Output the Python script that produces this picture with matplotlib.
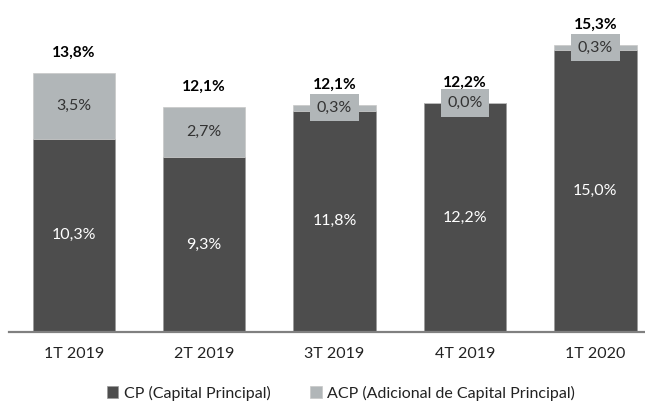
import matplotlib.pyplot as plt
import numpy as np

# dados (em %)
trimestres = ['1T 2019', '2T 2019', '3T 2019', '4T 2019', '1T 2020']
cp = [10.3, 9.3, 11.8, 12.2, 15.0]
acp = [3.5, 2.7, 0.3, 0.0, 0.3]
totais = [13.8, 12.1, 12.1, 12.2, 15.3]

cor_cp = '#4d4d4d'
cor_acp = '#b1b6b8'

plt.rcParams['font.family'] = ['Lato', 'DejaVu Sans']


def fmt(v):
    return f'{v:.1f}'.replace('.', ',') + '%'


fig = plt.figure(figsize=(6.45, 4.01), dpi=100)
ax = fig.add_axes([9 / 645, 69 / 401, 636 / 645, 332 / 401])

x = np.arange(len(trimestres))
w = 0.63
ax.bar(x, cp, w, color=cor_cp, edgecolor='#9a9a9a', linewidth=0.5,
       label='CP (Capital Principal)')
ax.bar(x, acp, w, bottom=cp, color=cor_acp, edgecolor='#c8c8c8', linewidth=0.5,
       label='ACP (Adicional de Capital Principal)')

for i in range(len(x)):
    # rotulo CP
    ax.text(x[i], cp[i] / 2, fmt(cp[i]), ha='center', va='center',
            color='white', fontsize=11.5)
    # rotulo ACP
    if acp[i] >= 1:
        ax.text(x[i], cp[i] + acp[i] / 2, fmt(acp[i]), ha='center', va='center',
                color='#333333', fontsize=11.5)
    else:
        ax.text(x[i], cp[i] + acp[i] / 2, fmt(acp[i]), ha='center', va='center',
                color='#333333', fontsize=11.5,
                bbox=dict(boxstyle='square,pad=0.42', fc=cor_acp, ec='none'))
    # total
    topo = cp[i] + acp[i]
    ax.annotate(fmt(totais[i]), (x[i], topo), xytext=(0, 14.5),
                textcoords='offset points', ha='center', va='center',
                fontsize=11.2, fontweight='bold', color='black',
                annotation_clip=False)

ax.set_xlim(-0.496, 4.38)
ax.set_ylim(0, 332 / 18.77)
ax.set_xticks(x)
ax.set_xticklabels(trimestres, fontsize=11.5, color='#222222')
ax.tick_params(axis='x', length=0, pad=10.5)
ax.set_yticks([])
for s in ['top', 'right', 'left']:
    ax.spines[s].set_visible(False)
ax.spines['bottom'].set_color('#808080')
ax.spines['bottom'].set_linewidth(1.6)

fig.legend(loc='center', bbox_to_anchor=(341 / 645, 1 - 393 / 401), ncol=2,
           frameon=False, fontsize=11.5, handlelength=0.7, handleheight=0.7,
           handletextpad=0.35, columnspacing=2.5, labelcolor='#222222')

plt.savefig('out.png', dpi=100)
